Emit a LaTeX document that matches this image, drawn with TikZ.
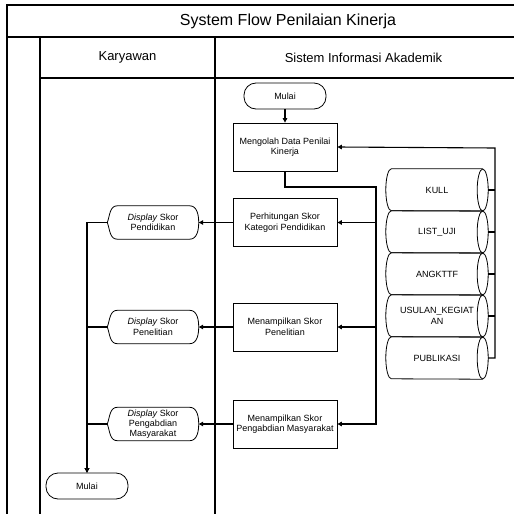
\documentclass[tikz,border=0pt]{standalone}
\usepackage{fontspec}
\setmainfont{Liberation Sans}
\usetikzlibrary{arrows.meta,calc}
\begin{document}
\begin{tikzpicture}[x=1pt,y=-1pt,
  frame/.style={line width=1.1pt,black},
  conn/.style={line width=1.1pt,black},
  arr/.style={conn,-{Triangle[length=4.5pt,width=4.5pt]}},
  procbox/.style={draw,line width=0.8pt,minimum width=104pt,minimum height=48pt,align=center,font=\fontsize{9}{10.5}\selectfont,inner sep=1pt},
  termbox/.style={draw,line width=0.8pt,rounded corners=12pt,minimum width=82pt,minimum height=26pt,font=\fontsize{9}{10.5}\selectfont},
  dispbox/.style={minimum width=91pt,minimum height=33pt,align=center,font=\fontsize{9}{10.5}\selectfont,inner sep=0pt},
  cylbox/.style={minimum width=102pt,minimum height=42pt,align=center,font=\fontsize{9}{10.5}\selectfont,inner sep=0pt},
  outline/.style={line width=0.8pt,black}
]
\useasboundingbox (0,0) rectangle (514,514);
% frame
\draw[frame] (7,514) -- (7,5) -- (514,5);
\draw[frame] (7,37) -- (514,37);
\draw[frame] (40,37) -- (40,514);
\draw[frame] (215,37) -- (215,514);
\draw[frame] (40,78) -- (514,78);
\node[font=\fontsize{16}{18}\selectfont] (title) at (288,21) {System Flow Penilaian Kinerja};
\node[font=\fontsize{13}{15}\selectfont] (lane1) at (127.5,57.5) {Karyawan};
\node[font=\fontsize{13}{15}\selectfont] (lane2) at (363.5,57.5) {Sistem Informasi Akademik};
% process
\node[termbox] (m1) at (285,96) {Mulai};
\node[procbox] (p1) at (285,147) {Mengolah Data Penilai\\Kinerja};
\node[procbox] (p2) at (285,222.5) {Perhitungan Skor\\Kategori Pendidikan};
\node[procbox] (p3) at (285,327) {Menampilkan Skor\\Penelitian};
\node[procbox] (p4) at (285,424) {Menampilkan Skor\\Pengabdian Masyarakat};
\node[termbox] (m2) at (87,486) {Mulai};
% displays
\node[dispbox] (d1) at (153,222.5) {\textit{Display} Skor\\Pendidikan};
\node[dispbox] (d2) at (153,327) {\textit{Display} Skor\\Penelitian};
\node[dispbox,font=\fontsize{9}{10}\selectfont] (d3) at (153,424) {\textit{Display} Skor\\Pengabdian\\Masyarakat};
\foreach \d in {d1,d2,d3}{
  \draw[outline] ([xshift=10pt]\d.north west) -- ([xshift=-9pt]\d.north east)
    to[out=0,in=90] (\d.east) to[out=-90,in=0] ([xshift=-9pt]\d.south east)
    -- ([xshift=10pt]\d.south west) to[out=180,in=-70] (\d.west)
    to[out=70,in=180] ([xshift=10pt]\d.north west);
}
% cylinders
\node[cylbox] (c1) at (437,190) {KULL};
\node[cylbox] (c2) at (437,232) {LIST\_UJI};
\node[cylbox] (c3) at (437,274) {ANGKTTF};
\node[cylbox] (c4) at (437,316) {USULAN\_KEGIAT\\AN};
\node[cylbox] (c5) at (437,358) {PUBLIKASI};
\foreach \c in {c1,c2,c3,c4,c5}{
  \draw[outline] ([xshift=-5.5pt]\c.north east) -- ([xshift=5.5pt]\c.north west)
    arc[start angle=90,end angle=270,x radius=5.5pt,y radius=21pt]
    -- ([xshift=-5.5pt]\c.south east);
  \draw[outline] ([xshift=-5.5pt]\c.east) ellipse[x radius=5.5pt,y radius=21pt];
}
% connectors
\coordinate (j1) at (376,187);
\coordinate (k1) at (495,148);
\draw[arr] (m1) -- (p1);
\draw[arr] (p1.south) |- (j1) |- (p4.east);
\draw[arr] (j1 |- p2.east) -- (p2.east);
\draw[arr] (j1 |- p3.east) -- (p3.east);
\draw[arr] (c5.east) -- (k1 |- c5.east) -- (k1) -- (p1.east);
\foreach \c in {c1,c2,c3,c4}{
  \draw[conn] (\c.east) -- (k1 |- \c.east);
}
\draw[arr] (p2.west) -- (d1.east);
\draw[arr] (p3.west) -- (d2.east);
\draw[arr] (p4.west) -- (d3.east);
\draw[arr] (d1.west) -| (m2.north);
\draw[arr] (d2.west) -| (m2.north);
\draw[arr] (d3.west) -| (m2.north);
\end{tikzpicture}
\end{document}
